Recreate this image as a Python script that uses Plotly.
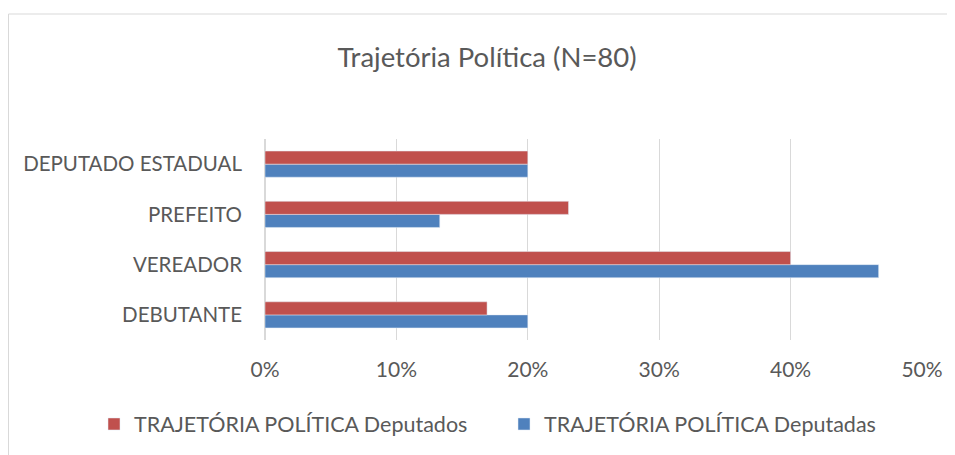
import plotly.graph_objects as go

# categories bottom to top, as plotly draws them
categorias = ["DEBUTANTE", "VEREADOR", "PREFEITO", "DEPUTADO ESTADUAL"]
deputados = [0.169, 0.400, 0.231, 0.200]
deputadas = [0.200, 0.467, 0.133, 0.200]
ticks_x = [0, 0.1, 0.2, 0.3, 0.4, 0.5]

# page has an 8px body margin, so the figure is a bit smaller than the window
W, H = 947, 447
ml, mr, mt, mb = 257, 33, 131, 115
pw, ph = W - ml - mr, H - mt - mb

fig = go.Figure()
fig.add_trace(go.Bar(y=categorias, x=deputadas, orientation="h",
                     name="TRAJETÓRIA POLÍTICA Deputadas", legend="legend2",
                     marker=dict(color="#4F81BD")))
fig.add_trace(go.Bar(y=categorias, x=deputados, orientation="h",
                     name="TRAJETÓRIA POLÍTICA Deputados", legend="legend",
                     marker=dict(color="#C0504D")))

# outer chart border (only top/left visible in the crop)
def px_x(p):
    return (p - ml) / pw

def px_y(p):
    return (H - mb - p) / ph

fig.add_shape(type="rect", xref="paper", yref="paper",
              x0=px_x(0.5), x1=px_x(W + 10), y0=px_y(H + 10), y1=px_y(6),
              line=dict(color="#d9d9d9", width=1), fillcolor="rgba(0,0,0,0)",
              layer="below")

font = "Lato, 'Noto Sans', sans-serif"
leg = dict(orientation="h", xref="container", xanchor="left",
           y=1 - 416 / H, yref="container", yanchor="middle",
           font=dict(size=21.5), bgcolor="rgba(0,0,0,0)")
fig.update_layout(
    width=W, height=H,
    margin=dict(l=ml, r=mr, t=mt, b=mb, autoexpand=False),
    paper_bgcolor="white", plot_bgcolor="white",
    barmode="group", bargap=0.48, bargroupgap=0,
    font=dict(family=font, color="#595959", size=20),
    title=dict(text="Trajetória Política (N=80)", x=479 / W, xanchor="center",
               y=1 - 49 / H, yanchor="middle",
               font=dict(size=27.5, color="#595959", family=font)),
    legend=dict(leg, x=86 / W),
    legend2=dict(leg, x=496 / W),
    showlegend=True,
)
fig.update_xaxes(range=[0, 0.5], tickvals=ticks_x, tickformat=".0%",
                 showgrid=True, gridcolor="#d9d9d9", gridwidth=1,
                 zeroline=True, zerolinecolor="#d9d9d9", showline=False,
                 ticks="", ticklabelstandoff=15, tickfont=dict(size=21))
fig.update_yaxes(showgrid=False, showline=False, ticks="",
                 ticklabelstandoff=22, tickfont=dict(size=20.5))

fig.write_html("out.html")
